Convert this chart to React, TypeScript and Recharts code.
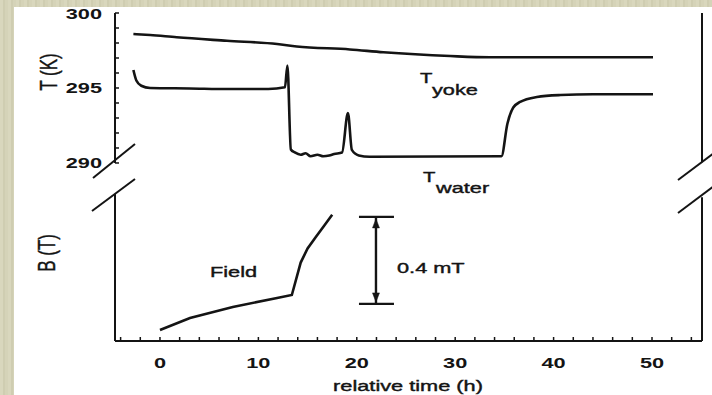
import { LineChart, Line, XAxis, YAxis, ReferenceLine } from "recharts";

// T_yoke (K) vs relative time (h)
const yokeTime = [-2.7, -1, 1.7, 6.8, 11.9, 13.9, 19.3, 22.7, 29.5, 33.5, 40, 50.1];
const yokeTemp = [298.6, 298.53, 298.38, 298.15, 297.93, 297.77, 297.57, 297.38, 297.13, 297.05, 297.05, 297.05];

// T_water (K)
const waterTime = [
  -2.7, -2.4, -1.9, -1, 3, 7, 11, 12.7, 12.95, 13.3, 13.7, 14.3, 14.8, 15.3, 16, 16.6,
  17.2, 17.7, 18.5, 19.1, 19.5, 20.2, 21.3, 34.7, 35.3, 35.9, 36.6, 38.3, 40.7, 44, 50.1,
];
const waterTemp = [
  296.2, 295.5, 295.15, 295.0, 294.97, 294.93, 294.93, 295.05, 296.5, 290.9, 290.7, 290.55,
  290.65, 290.45, 290.55, 290.45, 290.5, 290.6, 290.7, 293.33, 290.87, 290.5, 290.42, 290.45,
  292.6, 293.7, 294.07, 294.4, 294.53, 294.58, 294.58,
];

// field, mT relative to t = 0
const fieldTime = [0, 3.05, 7.4, 11.9, 13.4, 14.3, 15.0, 15.8, 16.7, 17.5];
const fieldValue = [0, 0.055, 0.106, 0.147, 0.161, 0.31, 0.375, 0.425, 0.48, 0.53];

const xTicks = [-4, -2, 0, 2, 4, 6, 8, 10, 12, 14, 16, 18, 20, 22, 24, 26, 28, 30, 32, 34, 36, 38, 40, 42, 44, 46, 48, 50, 52, 54];
const xLabels = [0, 10, 20, 30, 40, 50];
const tTicks = [290, 291, 292, 293, 294, 295, 296, 297, 298, 299, 300];
const tLabels = [290, 295, 300];

// scale bar: 0.4 mT
const barTime = 21.95;
const barFrom = 0.12;
const barTo = 0.52;

const X_DOMAIN = [-4.57, 55.08];
const T_DOMAIN = [278.13, 300];
const B_DOMAIN = [-0.0506, 1.4575];

const yoke = yokeTime.map((t, i) => ({ t, v: yokeTemp[i] }));
const water = waterTime.map((t, i) => ({ t, v: waterTemp[i] }));
const field = fieldTime.map((t, i) => ({ t, v: fieldValue[i] }));

const INK = "#141414";
const FONT = "'Liberation Sans', Arial, sans-serif";
const STRETCH = 1.45;

function XTick({ x, y, payload }: any) {
  if (!xLabels.includes(payload.value)) return <g />;
  return (
    <text
      transform={`translate(${x},${y + 11}) scale(${STRETCH},1)`}
      textAnchor="middle"
      fontFamily={FONT}
      fontWeight="bold"
      fontSize={15}
      fill={INK}
    >
      {payload.value}
    </text>
  );
}

function TTick({ x, y, payload }: any) {
  if (!tLabels.includes(payload.value)) return <g />;
  return (
    <text
      transform={`translate(${x},${y + 5.5}) scale(${STRETCH},1)`}
      textAnchor="end"
      fontFamily={FONT}
      fontWeight="bold"
      fontSize={15}
      fill={INK}
    >
      {payload.value}
    </text>
  );
}

const NoTick = () => <g />;

function ScaleBar({ x1, y1, y2 }: any) {
  const top = Math.min(y1, y2);
  const bot = Math.max(y1, y2);
  return (
    <g stroke={INK} fill={INK}>
      <line x1={x1} x2={x1} y1={top} y2={bot} strokeWidth={2.4} />
      <line x1={x1 - 17} x2={x1 + 18} y1={top} y2={top} strokeWidth={2.4} />
      <line x1={x1 - 17} x2={x1 + 18} y1={bot} y2={bot} strokeWidth={2.4} />
      <path d={`M${x1},${top + 2} L${x1 - 3.5},${top + 11} L${x1 + 3.5},${top + 11} Z`} strokeWidth={0.5} />
      <path d={`M${x1},${bot - 2} L${x1 - 3.5},${bot - 11} L${x1 + 3.5},${bot - 11} Z`} strokeWidth={0.5} />
    </g>
  );
}

function Txt({ x, y, size = 15, anchor = "start", children }: any) {
  return (
    <text
      transform={`translate(${x},${y}) scale(${STRETCH},1)`}
      textAnchor={anchor}
      fontFamily={FONT}
      fontSize={size}
      fill={INK}
      stroke={INK}
      strokeWidth={0.4}
    >
      {children}
    </text>
  );
}

function VTxt({ x, y, children }: any) {
  return (
    <text
      transform={`translate(${x},${y}) scale(${STRETCH},1) rotate(-90)`}
      textAnchor="middle"
      dominantBaseline="central"
      fontFamily={FONT}
      fontSize={17}
      fill={INK}
      stroke={INK}
      strokeWidth={0.3}
    >
      {children}
    </text>
  );
}

export default function App() {
  const axisLine = { stroke: INK, strokeWidth: 2 };
  const tickLine = { stroke: INK, strokeWidth: 1.5 };
  return (
    <div
      style={{
        position: "absolute",
        left: 0,
        top: 0,
        width: 712,
        height: 395,
        background:
          "repeating-linear-gradient(90deg, #d9d7bd 0px, #d9d7bd 3px, #cfcdb1 3px, #cfcdb1 5px, #d5d3b8 5px, #d5d3b8 8px)",
        overflow: "hidden",
      }}
    >
      <div style={{ position: "absolute", left: 14, top: 7, width: 698, height: 388, background: "#fff" }} />
      <div style={{ position: "absolute", left: 0, top: 0 }}>
        <LineChart width={712} height={395} margin={{ top: 13, right: 10, bottom: 14, left: 55 }}>
          <XAxis
            xAxisId="b"
            type="number"
            dataKey="t"
            domain={X_DOMAIN}
            allowDataOverflow
            ticks={xTicks}
            interval={0}
            height={40}
            tickSize={-4}
            tickMargin={20}
            axisLine={axisLine}
            tickLine={tickLine}
            tick={(p: any) => <XTick {...p} />}
          />
          <XAxis
            xAxisId="top"
            orientation="top"
            type="number"
            dataKey="t"
            domain={X_DOMAIN}
            allowDataOverflow
            ticks={xTicks}
            interval={0}
            height={0}
            tickSize={-4}
            axisLine={axisLine}
            tickLine={tickLine}
            tick={NoTick}
          />
          <YAxis
            yAxisId="T"
            type="number"
            domain={T_DOMAIN}
            allowDataOverflow
            ticks={tTicks}
            interval={0}
            width={60}
            tickSize={-4}
            tickMargin={17}
            axisLine={false}
            tickLine={tickLine}
            tick={(p: any) => <TTick {...p} />}
          />
          <YAxis
            yAxisId="TR"
            orientation="right"
            type="number"
            domain={T_DOMAIN}
            allowDataOverflow
            ticks={tTicks}
            interval={0}
            width={0}
            tickSize={-4}
            axisLine={false}
            tickLine={tickLine}
            tick={NoTick}
          />
          <YAxis yAxisId="B" orientation="right" width={0} type="number" domain={B_DOMAIN} allowDataOverflow hide />

          {/* broken frame: upper (temperature) and lower (field) pieces */}
          <ReferenceLine
            xAxisId="b"
            yAxisId="T"
            segment={[{ x: X_DOMAIN[0], y: 290 }, { x: X_DOMAIN[0], y: 300 }]}
            stroke={INK}
            strokeWidth={2}
            ifOverflow="visible"
          />
          <ReferenceLine
            xAxisId="b"
            yAxisId="T"
            segment={[{ x: X_DOMAIN[1], y: 290.05 }, { x: X_DOMAIN[1], y: 300 }]}
            stroke={INK}
            strokeWidth={2}
            ifOverflow="visible"
          />
          <ReferenceLine
            xAxisId="b"
            yAxisId="B"
            segment={[{ x: X_DOMAIN[0], y: B_DOMAIN[0] }, { x: X_DOMAIN[0], y: 0.625 }]}
            stroke={INK}
            strokeWidth={2}
            ifOverflow="visible"
          />
          <ReferenceLine
            xAxisId="b"
            yAxisId="B"
            segment={[{ x: X_DOMAIN[1], y: B_DOMAIN[0] }, { x: X_DOMAIN[1], y: 0.61 }]}
            stroke={INK}
            strokeWidth={2}
            ifOverflow="visible"
          />
          <ReferenceLine
            xAxisId="b"
            yAxisId="B"
            segment={[{ x: barTime, y: barFrom }, { x: barTime, y: barTo }]}
            shape={(p: any) => <ScaleBar {...p} />}
            ifOverflow="visible"
          />

          <Line
            xAxisId="b"
            yAxisId="T"
            data={yoke}
            dataKey="v"
            type="monotone"
            stroke={INK}
            strokeWidth={2.6}
            dot={false}
            isAnimationActive={false}
          />
          <Line
            xAxisId="b"
            yAxisId="T"
            data={water}
            dataKey="v"
            type="monotone"
            stroke={INK}
            strokeWidth={2.6}
            dot={false}
            isAnimationActive={false}
          />
          <Line
            xAxisId="b"
            yAxisId="B"
            data={field}
            dataKey="v"
            type="linear"
            stroke={INK}
            strokeWidth={2.6}
            dot={false}
            isAnimationActive={false}
          />
        </LineChart>
      </div>
      <svg
        width={712}
        height={395}
        style={{ position: "absolute", left: 0, top: 0, pointerEvents: "none" }}
      >
        <g stroke={INK} strokeWidth={2}>
          <line x1={93} y1={178} x2={135} y2={144} />
          <line x1={92} y1={211} x2={135} y2={179} />
          <line x1={678} y1={180} x2={714} y2={153} />
          <line x1={678} y1={213} x2={714} y2={186} />
        </g>
        <VTxt x={48} y={72}>T (K)</VTxt>
        <VTxt x={46} y={253}>B (T)</VTxt>
        <Txt x={420} y={83} size={14}>T</Txt>
        <Txt x={432} y={95}>yoke</Txt>
        <Txt x={423} y={182} size={14}>T</Txt>
        <Txt x={436} y={193}>water</Txt>
        <Txt x={210} y={277}>Field</Txt>
        <Txt x={397} y={273}>0.4 mT</Txt>
        <Txt x={408} y={391} anchor="middle">relative time (h)</Txt>
      </svg>
    </div>
  );
}
